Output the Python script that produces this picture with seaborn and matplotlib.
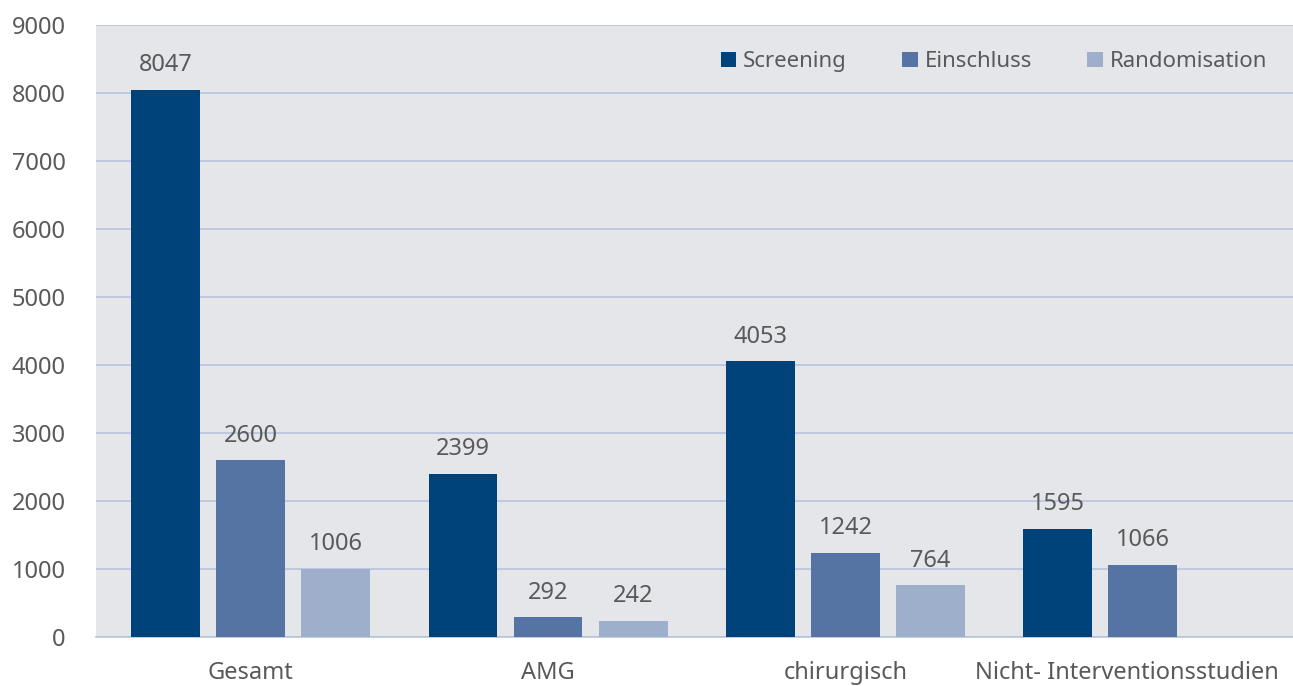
import numpy as np
import pandas as pd
import matplotlib
matplotlib.use("Agg")
import matplotlib.pyplot as plt
import matplotlib.transforms as mtransforms
import seaborn as sns

categories = ["Gesamt", "AMG", "chirurgisch", "Nicht- Interventionsstudien"]
series_names = ["Screening", "Einschluss", "Randomisation"]
screening = [8047, 2399, 4053, 1595]
einschluss = [2600, 292, 1242, 1066]
randomisation = [1006, 242, 764, np.nan]
y_ticks = [0, 1000, 2000, 3000, 4000, 5000, 6000, 7000, 8000, 9000]

colors = ["#00427a", "#5574a4", "#9eafcc"]
text_color = "#595959"
grid_color = "#b7c3dd"
bg_color = "#e5e6e9"

df = pd.DataFrame({
    "Kategorie": categories * 3,
    "Serie": [s for s in series_names for _ in categories],
    "Wert": screening + einschluss + randomisation,
})

sns.set_theme(style="white")
plt.rcParams["font.family"] = ["Noto Sans", "DejaVu Sans"]

fig = plt.figure(figsize=(12.93, 6.86), dpi=100)
ax = fig.add_axes([96 / 1293, 1 - 637 / 686, 1 - 96 / 1293, (637 - 25) / 686])
ax.set_facecolor(bg_color)

sns.barplot(data=df, x="Kategorie", y="Wert", hue="Serie", order=categories,
            hue_order=series_names, palette=colors, width=0.858, gap=0.19,
            saturation=1, linewidth=0, edgecolor="none", ax=ax, zorder=3)

ax.set_ylim(0, 9000)
ax.set_xlim(-0.52, 3.505)
ax.set_yticks(y_ticks)
ax.set_yticklabels([str(t) for t in y_ticks])
ax.yaxis.grid(True, color=grid_color, linewidth=1.2, zorder=0)
ax.set_axisbelow(True)
for side in ["left", "right", "top"]:
    ax.spines[side].set_visible(False)
ax.spines["bottom"].set_color(grid_color)
ax.spines["bottom"].set_linewidth(1.2)
ax.tick_params(axis="y", length=0, pad=22, labelsize=17, labelcolor=text_color)
ax.tick_params(axis="x", length=0, pad=17, labelsize=17, labelcolor=text_color)
ax.set_xlabel("")
ax.set_ylabel("")

# keep the long last category label inside the figure
last_label = ax.get_xticklabels()[-1]
last_label.set_transform(last_label.get_transform()
                         + mtransforms.ScaledTranslation(-16 / 100, 0, fig.dpi_scale_trans))

for container in ax.containers:
    labels = ["" if np.isnan(v) else f"{int(v)}" for v in container.datavalues]
    ax.bar_label(container, labels=labels, padding=9, fontsize=17, color=text_color)

leg = ax.legend(loc="upper right", ncol=3, frameon=False, fontsize=16,
                handlelength=0.7, handleheight=0.7, handletextpad=0.3,
                columnspacing=2.5, bbox_to_anchor=(0.995, 0.99), labelcolor=text_color)

fig.savefig("out.png", dpi=100, facecolor="white")
